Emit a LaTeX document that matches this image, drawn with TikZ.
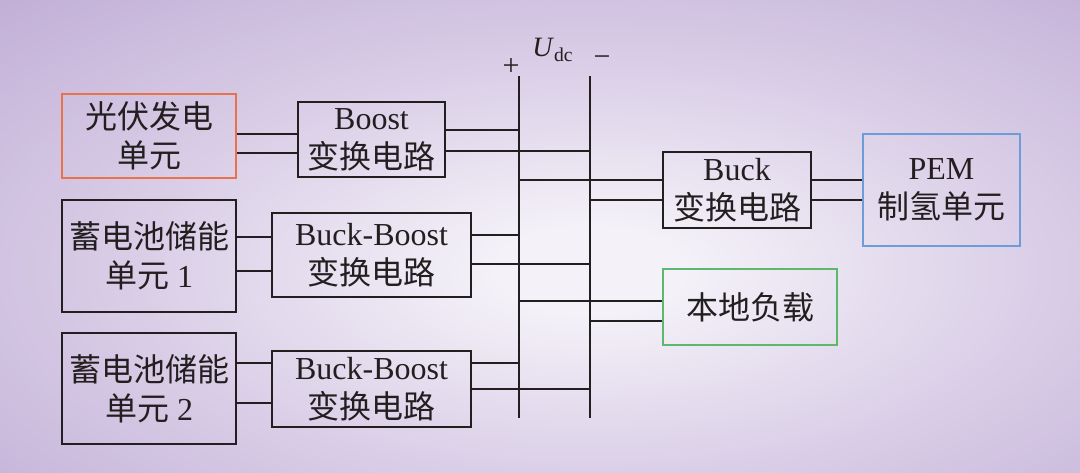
\documentclass[tikz,border=0pt]{standalone}
\usepackage{fontspec}
\setmainfont{Liberation Serif}
\newfontfamily\cjk{Noto Sans CJK SC}
\usetikzlibrary{positioning}

\definecolor{bgin}{HTML}{F4F1F8}
\definecolor{bgmid}{HTML}{D8CCE6}
\definecolor{bgout}{HTML}{C1AED6}
\definecolor{pvline}{HTML}{E8724C}
\definecolor{pemline}{HTML}{6C9DD8}
\definecolor{loadline}{HTML}{5CB86A}
\definecolor{ink}{HTML}{231F20}

\pgfdeclareradialshading{backdrop}{\pgfpoint{0bp}{0bp}}{color(0bp)=(bgin); color(4bp)=(bgin); color(20bp)=(bgmid); color(36bp)=(bgout); color(100bp)=(bgout)}

\tikzset{
	box/.style={draw=ink, line width=1pt, align=center, inner sep=0pt, text=ink, font=\fontsize{16}{19.5}\selectfont},
	wire/.style={draw=ink, line width=0.75pt},
	bus/.style={draw=ink, line width=1pt},
	sign/.style={inner sep=0pt, text=ink, font=\fontsize{15}{18}\selectfont}
}

\begin{document}
\begin{tikzpicture}[x=0.5pt, y=-0.5pt]
	\useasboundingbox (0,0) rectangle (1080,472);
	\begin{scope}
		\clip (0,0) rectangle (1080,472);
		\shade[shading=backdrop] (0,0) rectangle (1180,540);
	\end{scope}
	
	\node[box, draw=pvline, minimum width=87pt, minimum height=42pt] (pv) at (149,136) {{\cjk 光伏发电}\\{\cjk 单元}};
	\node[box, minimum width=73.5pt, minimum height=37.5pt, right=30pt of pv, yshift=-1.75pt] (boost) {Boost\\{\cjk 变换电路}};
	
	\node[box, minimum width=87pt, minimum height=56pt] (bat1) at (149,256) {{\cjk 蓄电池储能}\\{\cjk 单元} 1};
	\node[box, minimum width=99.5pt, minimum height=42pt, right=17pt of bat1, yshift=0.5pt] (bb1) {Buck-Boost\\{\cjk 变换电路}};
	
	\node[box, minimum width=87pt, minimum height=55.5pt] (bat2) at (149,388.5) {{\cjk 蓄电池储能}\\{\cjk 单元} 2};
	\node[box, minimum width=99.5pt, minimum height=38pt, right=17pt of bat2, yshift=-0.25pt] (bb2) {Buck-Boost\\{\cjk 变换电路}};
	
	\node[box, minimum width=74pt, minimum height=38pt] (buck) at (737,190) {Buck\\{\cjk 变换电路}};
	\node[box, draw=pemline, minimum width=78.5pt, minimum height=56pt, right=25pt of buck] (pem) {PEM\\{\cjk 制氢单元}};
	\node[box, draw=loadline, minimum width=87pt, minimum height=38pt, below=19.5pt of buck.south west, anchor=north west] (load) {{\cjk 本地负载}};
	
	% dc bus
	\coordinate (ptop) at (519,76);
	\coordinate (pbot) at (519,418);
	\coordinate (ntop) at (590,76);
	\coordinate (nbot) at (590,418);
	\draw[bus] (ptop) -- (pbot);
	\draw[bus] (ntop) -- (nbot);
	\node[sign] (plus) at (511,67) {+};
	\node[sign] (minus) at (602,61) {−};
	\node[sign, font=\fontsize{14}{17}\selectfont] (udc) at (553,50) {\textit{U}\textsubscript{dc}};
	
	\draw[wire] ([yshift=1pt]pv.east) -- ([yshift=1pt]pv.east -| boost.west);
	\draw[wire] ([yshift=-8.5pt]pv.east) -- ([yshift=-8.5pt]pv.east -| boost.west);
	\draw[wire] ([yshift=4.75pt]boost.east) -- ([yshift=4.75pt]boost.east -| ptop);
	\draw[wire] ([yshift=-5.75pt]boost.east) -- ([yshift=-5.75pt]boost.east -| ntop);
	
	\draw[wire] ([yshift=9.5pt]bat1.east) -- ([yshift=9.5pt]bat1.east -| bb1.west);
	\draw[wire] ([yshift=-7.5pt]bat1.east) -- ([yshift=-7.5pt]bat1.east -| bb1.west);
	\draw[wire] ([yshift=10pt]bb1.east) -- ([yshift=10pt]bb1.east -| ptop);
	\draw[wire] ([yshift=-4.5pt]bb1.east) -- ([yshift=-4.5pt]bb1.east -| ntop);
	
	\draw[wire] ([yshift=12.75pt]bat2.east) -- ([yshift=12.75pt]bat2.east -| bb2.west);
	\draw[wire] ([yshift=-7.25pt]bat2.east) -- ([yshift=-7.25pt]bat2.east -| bb2.west);
	\draw[wire] ([yshift=13pt]bb2.east) -- ([yshift=13pt]bb2.east -| ptop);
	\draw[wire] (bb2.east) -- (bb2.east -| ntop);
	
	\draw[wire] ([yshift=5pt]buck.west -| ptop) -- ([yshift=5pt]buck.west);
	\draw[wire] ([yshift=-5pt]buck.west -| ntop) -- ([yshift=-5pt]buck.west);
	\draw[wire] ([yshift=5pt]buck.east) -- ([yshift=5pt]buck.east -| pem.west);
	\draw[wire] ([yshift=-5pt]buck.east) -- ([yshift=-5pt]buck.east -| pem.west);
	
	\draw[wire] ([yshift=3pt]load.west -| ptop) -- ([yshift=3pt]load.west);
	\draw[wire] ([yshift=-7pt]load.west -| ntop) -- ([yshift=-7pt]load.west);
\end{tikzpicture}
\end{document}
